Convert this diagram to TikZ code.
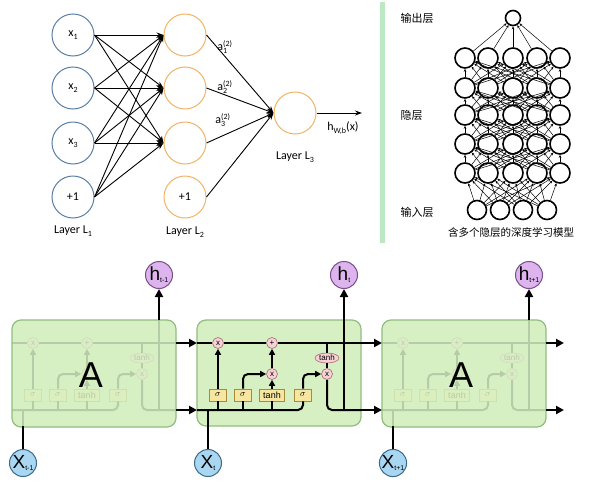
\documentclass[tikz,border=0pt]{standalone}
\usepackage{fontspec}
\setmainfont{Carlito}
\setsansfont{Liberation Sans}
\newfontfamily\cjk{Noto Sans CJK SC}
\usetikzlibrary{arrows.meta,shapes.geometric,calc}
\definecolor{nnblue}{HTML}{5B7EA6}
\definecolor{nnorange}{HTML}{F2B567}
\definecolor{barg}{HTML}{BDE8C4}
\definecolor{cellfill}{HTML}{D6F0C4}
\definecolor{celldraw}{HTML}{93BC80}
\definecolor{hfill}{HTML}{DDB4EE}
\definecolor{hdraw}{HTML}{7A4E8C}
\definecolor{xfill}{HTML}{A9D7F2}
\definecolor{xdraw}{HTML}{3B6B8C}
\definecolor{gatefill}{HTML}{F7E6A0}
\definecolor{gatedraw}{HTML}{A88B3A}
\definecolor{opfill}{HTML}{F6D2D6}
\definecolor{opdraw}{HTML}{A86A72}
\newcommand{\lo}[1]{\raisebox{-0.45ex}{\fontsize{8}{8}\selectfont #1}}
\newcommand{\supsub}[3]{#1\rlap{\raisebox{0.75ex}{\fontsize{8}{8}\selectfont #2}}\raisebox{-0.6ex}{\fontsize{8}{8}\selectfont #3}\hphantom{(2)}}
\newcommand{\bigsym}[2]{\sffamily\fontsize{19}{19}\selectfont #1\raisebox{-2pt}{\fontsize{7}{7}\selectfont #2}}
\tikzset{
  n1/.style={circle,draw=nnblue,line width=1pt,minimum size=42pt,inner sep=0pt,font=\fontsize{12}{12}\selectfont},
  n2/.style={n1,draw=nnorange},
  nnarrow/.style={-{Stealth[length=7pt,width=5pt]},line width=0.9pt},
  lbl/.style={font=\fontsize{12}{13}\selectfont},
  dn/.style={circle,draw,line width=1.6pt,minimum size=20pt,inner sep=0pt,fill=white},
  dnarrow/.style={-{Stealth[length=3pt,width=2.5pt]},line width=0.5pt},
  cjkl/.style={font=\cjk\fontsize{11}{12}\selectfont},
  cellbox/.style={draw=celldraw,fill=cellfill,rounded corners=9pt,line width=1.2pt},
  veil/.style={draw=celldraw,fill=cellfill,fill opacity=0.85,rounded corners=9pt,line width=1.2pt},
  flow/.style={line width=2pt,rounded corners=5pt},
  flowar/.style={flow,-{Triangle[length=6pt,width=6pt]}},
  outar/.style={line width=2pt,-{Triangle[length=8pt,width=8pt]}},
  gate/.style={draw=gatedraw,fill=gatefill,line width=0.6pt,minimum height=12pt,minimum width=17pt,inner sep=1pt,font=\sffamily\fontsize{9}{9}\selectfont},
  op/.style={circle,draw=opdraw,fill=opfill,line width=0.6pt,minimum size=11pt,inner sep=0pt,font=\sffamily\fontsize{8}{8}\selectfont},
  opell/.style={ellipse,draw=opdraw,fill=opfill,line width=0.6pt,minimum width=24pt,minimum height=10pt,inner sep=0pt,font=\sffamily\fontsize{8}{8}\selectfont},
  hcirc/.style={circle,draw=hdraw,fill=hfill,line width=1pt,minimum size=27pt,inner sep=0pt},
  xcirc/.style={circle,draw=xdraw,fill=xfill,line width=1pt,minimum size=27pt,inner sep=0pt},
}
\newcommand{\lstmstruct}{%
  \coordinate (ul) at (0,23);
  \coordinate (ur) at (164,23);
  \coordinate (ll) at (0,90);
  \coordinate (lr) at (164,90);
  \coordinate (hb) at (147,90);
  \coordinate (ht) at (147,0);
  \coordinate (xb) at (11,106);
  \coordinate (xj) at (11,90);
  \coordinate (tj) at (130,23);
  \node[op] (fx) at (21,23) {x};
  \node[op] (pl) at (75,23) {+};
  \node[op] (ix) at (75,54) {x};
  \node[op] (ox) at (130,54) {x};
  \node[opell] (th) at (130,38) {tanh};
  \node[gate] (g1) at (21,75) {$\sigma$};
  \node[gate] (g2) at (46,75) {$\sigma$};
  \node[gate,minimum width=25pt] (g3) at (75,75) {tanh};
  \node[gate] (g4) at (106,75) {$\sigma$};
  \draw[flow] (ul) -- (fx) -- (pl) -- (ur);
  \draw[flow] (ll) -| (g4);
  \draw[flow] (g1) -- (g1 |- ll);
  \draw[flow] (g2) -- (g2 |- ll);
  \draw[flow] (g3) -- (g3 |- ll);
  \draw[flowar] (g1) -- (fx);
  \draw[flowar] (g2) |- (ix);
  \draw[flowar] (g3) -- (ix);
  \draw[flowar] (ix) -- (pl);
  \draw[flowar] (g4) |- (ox);
  \draw[flow] (tj) -- (th);
  \draw[flow] (th) -- (ox);
  \draw[flow] (ox) |- (lr);
  \draw[flow] (hb) -- (ht);
  \draw[flow] (xb) -- (xj);
}
\begin{document}
\begin{tikzpicture}[x=1pt,y=-1pt]
\useasboundingbox[fill=white] (0,0) rectangle (594,482);
% ---------- simple network ----------
\node[n1] (la1) at (73,35) {x\lo{1}};
\node[n1] (la2) at (73,88) {x\lo{2}};
\node[n1] (la3) at (73,143) {x\lo{3}};
\node[n1] (la4) at (73,197) {+1};
\node[n2] (lb1) at (185,35) {};
\node[n2] (lb2) at (185,88) {};
\node[n2] (lb3) at (185,143) {};
\node[n2] (lb4) at (185,197) {+1};
\node[n2] (lc) at (295,113) {};
\coordinate (hout) at (362,113);
\foreach \i in {1,...,4}{\foreach \j in {1,2,3}{\draw[nnarrow] (la\i.east) -- (lb\j.west);}}
\foreach \i in {1,...,4}{\draw[nnarrow] (lb\i.east) -- (lc.west);}
\draw[nnarrow] (lc) -- (hout);
\node[lbl] (a1) at (229,47) {\supsub{a}{(2)}{1}};
\node[lbl] (a2) at (229,87) {\supsub{a}{(2)}{2}};
\node[lbl] (a3) at (227,120) {\supsub{a}{(2)}{3}};
\node[lbl] (hl) at (343,128) {h\lo{W,b}(x)};
\node[lbl] (L1) at (73,231) {Layer L\lo{1}};
\node[lbl] (L2) at (185,232) {Layer L\lo{2}};
\node[lbl] (L3) at (295,157) {Layer L\lo{3}};
% ---------- deep network ----------
\fill[barg] (380,2) rectangle (385,243);
\node[dn,minimum size=15pt] (dout) at (513,18) {};
\foreach \r/\y in {1/173,2/144,3/115,4/88,5/58}{
  \foreach \c/\x in {1/465,2/488,3/513,4/537,5/560}{
    \node[dn] (dh-\r-\c) at (\x,\y) {};}}
\foreach \c/\x in {1/477,2/500,3/523,4/547}{\node[dn,minimum size=19pt] (din-\c) at (\x,210) {};}
\foreach \i in {1,...,4}{\foreach \j in {1,...,5}{\draw[dnarrow] (din-\i) -- (dh-1-\j);}}
\foreach \r in {1,...,4}{\pgfmathtruncatemacro{\rn}{\r+1}
  \foreach \i in {1,...,5}{\foreach \j in {1,...,5}{\draw[dnarrow] (dh-\r-\i) -- (dh-\rn-\j);}}}
\foreach \i in {1,...,5}{\draw[dnarrow] (dh-5-\i) -- (dout);}
\node[cjkl,anchor=west] (t1) at (397,18) {输出层};
\node[cjkl,anchor=west] (t2) at (397,115) {隐层};
\node[cjkl,anchor=west] (t3) at (397,212) {输入层};
\node[cjkl,font=\cjk\fontsize{10.5}{11}\selectfont] (t4) at (511,233) {含多个隐层的深度学习模型};
% ---------- LSTM chain ----------
\begin{scope}[shift={(12,320)},name prefix=c1-]
  \fill[cellfill,rounded corners=9pt] (0,0) rectangle (164,107);
  \lstmstruct
  \draw[veil] (0,0) rectangle (164,107);
  \node[font=\sffamily\fontsize{36}{36}\selectfont,inner sep=0pt] (A) at (79,55) {A};
\end{scope}
\begin{scope}[shift={(197,320)},name prefix=c2-]
  \draw[cellbox] (0,0) rectangle (164,106);
  \lstmstruct
\end{scope}
\begin{scope}[shift={(382,320)},name prefix=c3-]
  \fill[cellfill,rounded corners=9pt] (0,0) rectangle (164,107);
  \lstmstruct
  \draw[veil] (0,0) rectangle (164,107);
  \node[font=\sffamily\fontsize{36}{36}\selectfont,inner sep=0pt] (A) at (79,55) {A};
\end{scope}
\coordinate (endu) at (564,343);
\coordinate (endl) at (564,410);
\draw[outar] (c1-ur) -- (c2-ul);
\draw[outar] (c1-lr) -- (c2-ll);
\draw[outar] (c2-ur) -- (c3-ul);
\draw[outar] (c2-lr) -- (c3-ll);
\draw[outar] (c3-ur) -- (endu);
\draw[outar] (c3-lr) -- (endl);
\node[hcirc] (h1) at (159,275) {\bigsym{h}{t-1}};
\node[hcirc] (h2) at (344,275) {\bigsym{h}{t}};
\node[hcirc] (h3) at (529,275) {\bigsym{h}{t+1}};
\node[xcirc] (x1) at (23,463) {\bigsym{X}{t-1}};
\node[xcirc] (x2) at (208,463) {\bigsym{X}{t}};
\node[xcirc] (x3) at (393,463) {\bigsym{X}{t+1}};
\draw[outar] (c1-ht) -- (h1);
\draw[outar] (c2-ht) -- (h2);
\draw[outar] (c3-ht) -- (h3);
\draw[line width=2pt] (x1) -- (c1-xb);
\draw[line width=2pt] (x2) -- (c2-xb);
\draw[line width=2pt] (x3) -- (c3-xb);
\end{tikzpicture}
\end{document}
